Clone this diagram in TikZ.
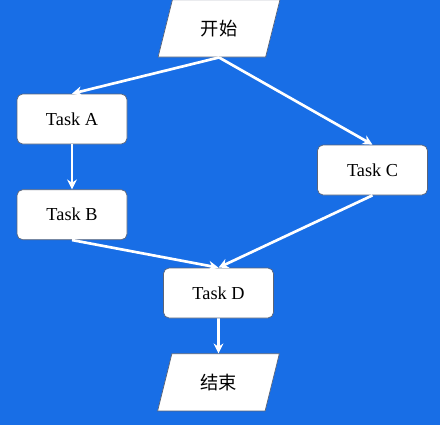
\documentclass[tikz,border=0pt]{standalone}
\usepackage{fontspec}
\setmainfont{Liberation Serif}
\newfontfamily\cjkfont{Noto Sans CJK SC}
\usepackage{tikz}
\usetikzlibrary{shapes.geometric,arrows.meta,positioning}
\definecolor{bgblue}{RGB}{24,110,230}
\definecolor{boxline}{RGB}{90,100,120}

\begin{document}
\begin{tikzpicture}[
    node distance=1cm,
    every node/.style={font=\fontsize{13}{15}\selectfont},
    task/.style={rectangle, draw=boxline, line width=0.5pt, fill=white, minimum width=2.75cm, minimum height=1.25cm, text centered, rounded corners=4pt},
    io/.style={trapezium, trapezium left angle=75, trapezium right angle=105, trapezium stretches=true, draw=boxline, line width=0.5pt, fill=white, minimum width=3.05cm, minimum height=1.43cm, font=\cjkfont\fontsize{13}{15}\selectfont},
    arrow/.style={-{Stealth[length=7pt,width=7pt]}, line width=1.9pt, color=white}
]

% Background
\fill[bgblue] (0,0) rectangle (11,-10.625);
\useasboundingbox (0,0) rectangle (11,-10.625);

% Start
\node[io] (start) at (5.475,-0.7125) {开始};

% Tasks
\node[task] (taska) at (1.8,-2.975) {Task A};
\node[task, below=1.125cm of taska] (taskb) {Task B};
\node[task] (taskc) at (9.3125,-4.25) {Task C};
\node[task] (taskd) at (5.4625,-7.325) {Task D};

% End
\node[io, below=0.875cm of taskd] (finish) {结束};

% Connections
\draw[arrow] (start.south) -- (taska.north);
\draw[arrow] (start.south) -- (taskc.north);
\draw[arrow] (taska) -- (taskb);
\draw[arrow] (taskb.south) -- (taskd.north);
\draw[arrow] (taskc.south) -- (taskd.north);
\draw[arrow] (taskd) -- (finish);

\end{tikzpicture}
\end{document}
